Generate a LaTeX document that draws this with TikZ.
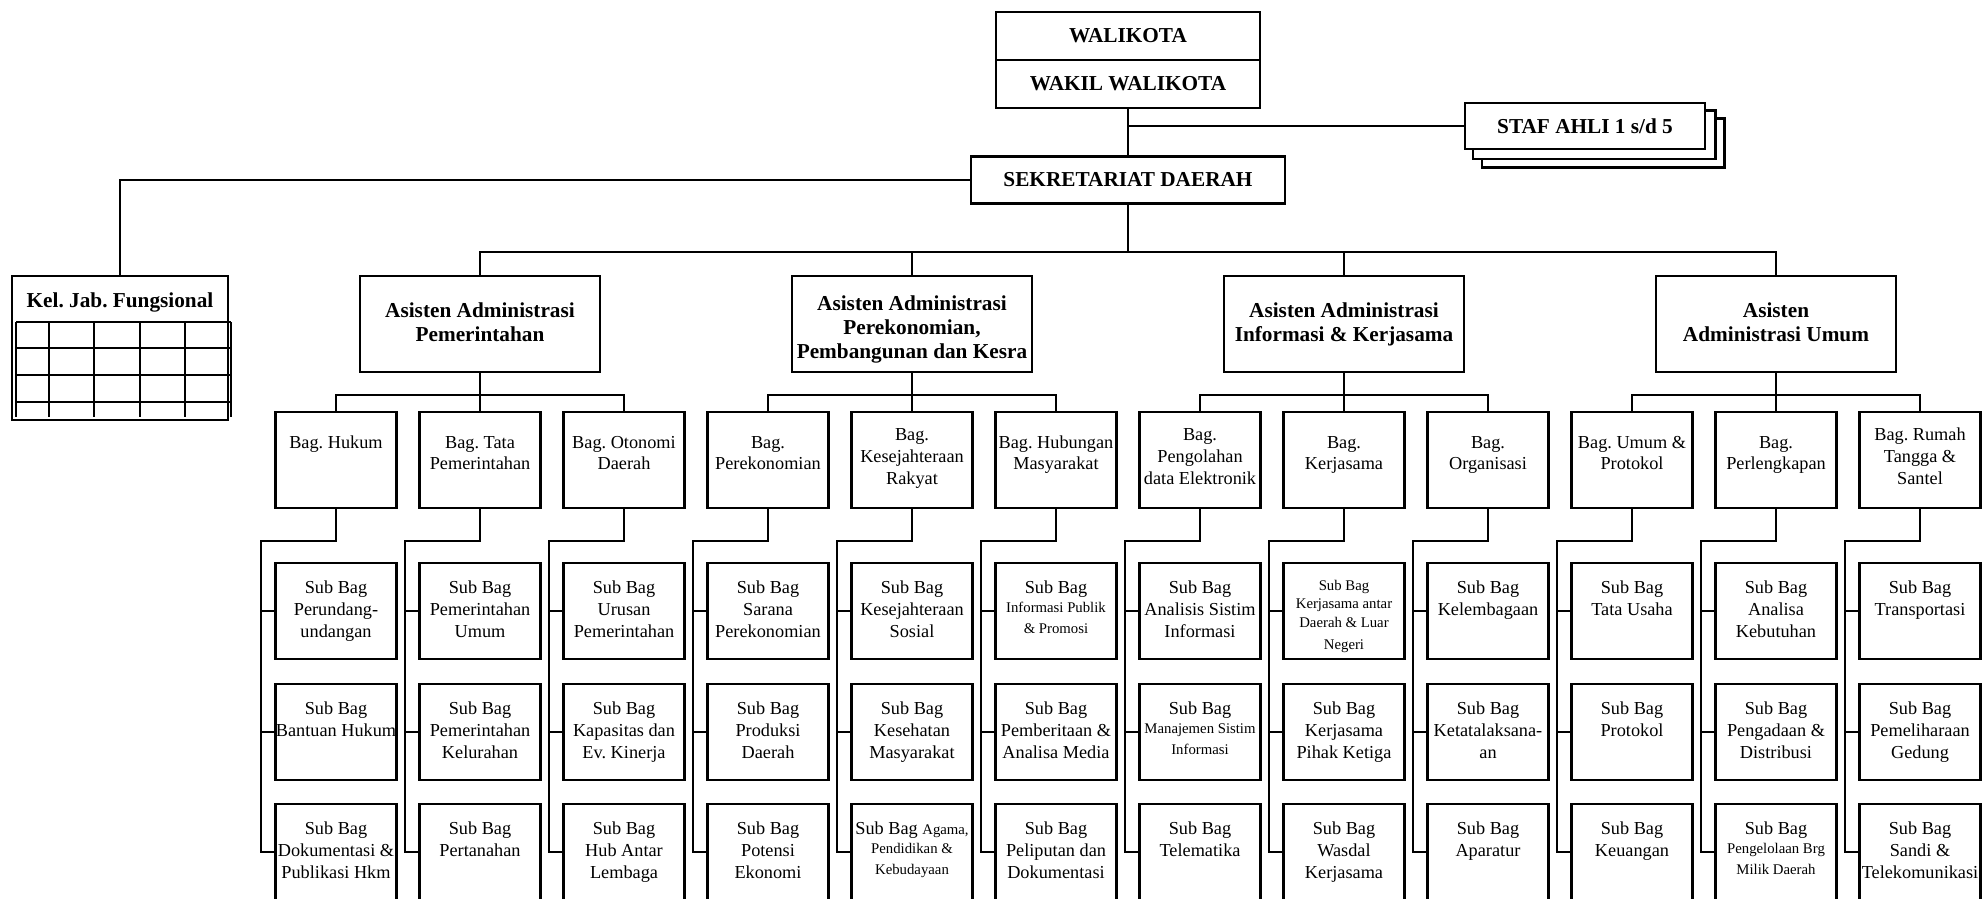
\documentclass[tikz,border=0pt]{standalone}
\usepackage{fontspec}
\setmainfont{Liberation Serif}
\usetikzlibrary{backgrounds}
\frenchspacing

\newcommand{\biasa}{\fontsize{10.4}{12.4}\selectfont}
\newcommand{\kecil}{\fontsize{8.4}{10.6}\selectfont}
\newcommand{\tebal}{\fontsize{12.1}{13.7}\selectfont\bfseries}

\tikzset{kotak/.style = {rectangle, draw, line width=0.5mm, inner sep=0pt, align=flush center, fill=white},
         atas/.style = {kotak, font=\tebal, minimum height=9.6mm},
         asisten/.style = {kotak, font=\tebal, text width=48mm, text height=8.2mm, text depth=11mm},
         bagian/.style = {kotak, font=\biasa, text width=24.2mm, text height=7.2mm, text depth=12mm},
         subbag/.style = {kotak, font=\biasa, text width=24.2mm, text height=6.1mm, text depth=13.1mm},
         garis/.style = {line width=0.4mm}
        }

\begin{document}
\begin{tikzpicture}[x=0.2mm, y=-0.2mm]
\useasboundingbox (0,0) rectangle (1982,899);
% pimpinan
\node[atas, minimum width=52.8mm] at (1128,36) (wk) {WALIKOTA};
\node[atas, minimum width=52.8mm] at (1128,84) (wwk) {WAKIL WALIKOTA};
\node[atas, minimum width=48mm, minimum height=9.2mm] at (1585,126) (staf) {STAF AHLI 1 s/d 5};
\node[atas, minimum width=62.8mm, minimum height=9.4mm] at (1128,180) (sekda) {SEKRETARIAT DAERAH};
\node[kotak, font=\tebal, text width=43.2mm, text height=6.4mm, text depth=22.4mm] at (120,348) (kel) {Kel. Jab. Fungsional};
\begin{scope}[on background layer]
\draw[garis, line width=0.5mm, fill=white] ([shift={(18,17)}]staf.north west) rectangle ([shift={(18,17)}]staf.south east);
\draw[garis, line width=0.5mm, fill=white] ([shift={(9,9)}]staf.north west) rectangle ([shift={(9,9)}]staf.south east);
\end{scope}
\draw[garis, line width=0.5mm] (16,322) -- (231,322) (16,348) -- (231,348) (16,375) -- (231,375) (16,402) -- (231,402);
\draw[garis, line width=0.5mm] (16,322) -- (16,417) (49,322) -- (49,417) (94,322) -- (94,417) (140,322) -- (140,417) (185,322) -- (185,417) (231,322) -- (231,417);

% asisten
\node[asisten] at (480,324) (as1) {Asisten Administrasi\\Pemerintahan};
\node[asisten, text height=6.8mm, text depth=12.4mm] at (912,324) (as2) {Asisten Administrasi\\Perekonomian,\\Pembangunan dan Kesra};
\node[asisten] at (1344,324) (as3) {Asisten Administrasi\\Informasi \& Kerjasama};
\node[asisten] at (1776,324) (as4) {Asisten\\Administrasi Umum};

% bagian
\node[bagian] at (336,460) (b1) {Bag. Hukum};
\node[bagian] at (480,460) (b2) {Bag. Tata\\Pemerintahan};
\node[bagian] at (624,460) (b3) {Bag. Otonomi\\Daerah};
\node[bagian] at (768,460) (b4) {Bag.\\Perekonomian};
\node[bagian, text height=5.7mm, text depth=13.5mm] at (912,460) (b5) {Bag.\\Kesejahteraan\\Rakyat};
\node[bagian] at (1056,460) (b6) {Bag. Hubungan\\Masyarakat};
\node[bagian, text height=5.7mm, text depth=13.5mm] at (1200,460) (b7) {Bag.\\Pengolahan\\data Elektronik};
\node[bagian] at (1344,460) (b8) {Bag.\\Kerjasama};
\node[bagian] at (1488,460) (b9) {Bag.\\Organisasi};
\node[bagian] at (1632,460) (b10) {Bag. Umum \&\\Protokol};
\node[bagian] at (1776,460) (b11) {Bag.\\Perlengkapan};
\node[bagian, text height=5.7mm, text depth=13.5mm] at (1920,460) (b12) {Bag. Rumah\\Tangga \&\\Santel};

% sub bagian
\node[subbag] at (336,611) (s1a) {Sub Bag\\Perundang-\\undangan};
\node[subbag] at (336,732) (s1b) {Sub Bag\\\makebox[0pt]{Bantuan Hukum}};
\node[subbag] at (336,852) (s1c) {Sub Bag\\\makebox[0pt]{Dokumentasi \&}\\Publikasi Hkm};
\node[subbag] at (480,611) (s2a) {Sub Bag\\Pemerintahan\\Umum};
\node[subbag] at (480,732) (s2b) {Sub Bag\\Pemerintahan\\Kelurahan};
\node[subbag] at (480,852) (s2c) {Sub Bag\\Pertanahan};
\node[subbag] at (624,611) (s3a) {Sub Bag\\Urusan\\Pemerintahan};
\node[subbag] at (624,732) (s3b) {Sub Bag\\Kapasitas dan\\Ev. Kinerja};
\node[subbag] at (624,852) (s3c) {Sub Bag\\Hub Antar\\Lembaga};
\node[subbag] at (768,611) (s4a) {Sub Bag\\Sarana\\Perekonomian};
\node[subbag] at (768,732) (s4b) {Sub Bag\\Produksi\\Daerah};
\node[subbag] at (768,852) (s4c) {Sub Bag\\Potensi\\Ekonomi};
\node[subbag] at (912,611) (s5a) {Sub Bag\\Kesejahteraan\\Sosial};
\node[subbag] at (912,732) (s5b) {Sub Bag\\Kesehatan\\Masyarakat};
\node[subbag] at (912,852) (s5c) {Sub Bag {\kecil Agama,}\\\kecil Pendidikan \&\\Kebudayaan};
\node[subbag] at (1056,611) (s6a) {Sub Bag\\\kecil Informasi Publik\\\& Promosi};
\node[subbag] at (1056,732) (s6b) {Sub Bag\\Pemberitaan \&\\Analisa Media};
\node[subbag] at (1056,852) (s6c) {Sub Bag\\Peliputan dan\\Dokumentasi};
\node[subbag] at (1200,611) (s7a) {Sub Bag\\Analisis Sistim\\Informasi};
\node[subbag] at (1200,732) (s7b) {Sub Bag\\\kecil Manajemen Sistim\\Informasi};
\node[subbag] at (1200,852) (s7c) {Sub Bag\\Telematika};
\node[subbag, text height=5.4mm, text depth=13.8mm] at (1344,611) (s8a) {\kecil Sub Bag\\Kerjasama antar\\Daerah \& Luar\\Negeri};
\node[subbag] at (1344,732) (s8b) {Sub Bag\\Kerjasama\\Pihak Ketiga};
\node[subbag] at (1344,852) (s8c) {Sub Bag\\Wasdal\\Kerjasama};
\node[subbag] at (1488,611) (s9a) {Sub Bag\\Kelembagaan};
\node[subbag] at (1488,732) (s9b) {Sub Bag\\Ketatalaksana-\\an};
\node[subbag] at (1488,852) (s9c) {Sub Bag\\Aparatur};
\node[subbag] at (1632,611) (s10a) {Sub Bag\\Tata Usaha};
\node[subbag] at (1632,732) (s10b) {Sub Bag\\Protokol};
\node[subbag] at (1632,852) (s10c) {Sub Bag\\Keuangan};
\node[subbag] at (1776,611) (s11a) {Sub Bag\\Analisa\\Kebutuhan};
\node[subbag] at (1776,732) (s11b) {Sub Bag\\Pengadaan \&\\Distribusi};
\node[subbag] at (1776,852) (s11c) {Sub Bag\\\kecil Pengelolaan Brg\\Milik Daerah};
\node[subbag] at (1920,611) (s12a) {Sub Bag\\Transportasi};
\node[subbag] at (1920,732) (s12b) {Sub Bag\\Pemeliharaan\\Gedung};
\node[subbag] at (1920,852) (s12c) {Sub Bag\\Sandi \&\\Telekomunikasi};

% garis atas
\coordinate (bus) at (1128,252);
\draw[garis] (wwk.south) -- (sekda.north);
\draw[garis] (staf.west) -- (staf.west -| wwk.south);
\draw[garis] (sekda.west) -| (kel.north);
\draw[garis] (sekda.south) -- (bus);
\draw[garis] (as1.north) |- (bus) -| (as4.north);
\draw[garis] (as2.north) -- (as2.north |- bus);
\draw[garis] (as3.north) -- (as3.north |- bus);

% asisten ke bagian
\draw[garis] (as1.south) -- (b2.north);
\draw[garis] (b1.north) -- ++(0,-16) -| (b3.north);
\draw[garis] (as2.south) -- (b5.north);
\draw[garis] (b4.north) -- ++(0,-16) -| (b6.north);
\draw[garis] (as3.south) -- (b8.north);
\draw[garis] (b7.north) -- ++(0,-16) -| (b9.north);
\draw[garis] (as4.south) -- (b11.north);
\draw[garis] (b10.north) -- ++(0,-16) -| (b12.north);

% bagian ke sub bagian
\draw[garis] (b1.south) -- ++(0,32) -| ([xshift=-2.6mm]s1c.west) -- (s1c.west);
\draw[garis] (s1a.west) -- ++(-13,0) (s1b.west) -- ++(-13,0);
\draw[garis] (b2.south) -- ++(0,32) -| ([xshift=-2.6mm]s2c.west) -- (s2c.west);
\draw[garis] (s2a.west) -- ++(-13,0) (s2b.west) -- ++(-13,0);
\draw[garis] (b3.south) -- ++(0,32) -| ([xshift=-2.6mm]s3c.west) -- (s3c.west);
\draw[garis] (s3a.west) -- ++(-13,0) (s3b.west) -- ++(-13,0);
\draw[garis] (b4.south) -- ++(0,32) -| ([xshift=-2.6mm]s4c.west) -- (s4c.west);
\draw[garis] (s4a.west) -- ++(-13,0) (s4b.west) -- ++(-13,0);
\draw[garis] (b5.south) -- ++(0,32) -| ([xshift=-2.6mm]s5c.west) -- (s5c.west);
\draw[garis] (s5a.west) -- ++(-13,0) (s5b.west) -- ++(-13,0);
\draw[garis] (b6.south) -- ++(0,32) -| ([xshift=-2.6mm]s6c.west) -- (s6c.west);
\draw[garis] (s6a.west) -- ++(-13,0) (s6b.west) -- ++(-13,0);
\draw[garis] (b7.south) -- ++(0,32) -| ([xshift=-2.6mm]s7c.west) -- (s7c.west);
\draw[garis] (s7a.west) -- ++(-13,0) (s7b.west) -- ++(-13,0);
\draw[garis] (b8.south) -- ++(0,32) -| ([xshift=-2.6mm]s8c.west) -- (s8c.west);
\draw[garis] (s8a.west) -- ++(-13,0) (s8b.west) -- ++(-13,0);
\draw[garis] (b9.south) -- ++(0,32) -| ([xshift=-2.6mm]s9c.west) -- (s9c.west);
\draw[garis] (s9a.west) -- ++(-13,0) (s9b.west) -- ++(-13,0);
\draw[garis] (b10.south) -- ++(0,32) -| ([xshift=-2.6mm]s10c.west) -- (s10c.west);
\draw[garis] (s10a.west) -- ++(-13,0) (s10b.west) -- ++(-13,0);
\draw[garis] (b11.south) -- ++(0,32) -| ([xshift=-2.6mm]s11c.west) -- (s11c.west);
\draw[garis] (s11a.west) -- ++(-13,0) (s11b.west) -- ++(-13,0);
\draw[garis] (b12.south) -- ++(0,32) -| ([xshift=-2.6mm]s12c.west) -- (s12c.west);
\draw[garis] (s12a.west) -- ++(-13,0) (s12b.west) -- ++(-13,0);
\end{tikzpicture}
\end{document}
